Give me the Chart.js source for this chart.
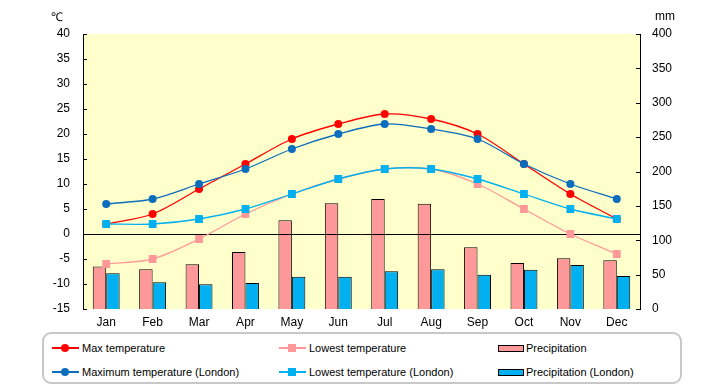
<!DOCTYPE html>
<html>
<head>
<meta charset="utf-8">
<script src="https://cdn.jsdelivr.net/npm/chart.js@4/dist/chart.umd.min.js"></script>
<style>
    body { margin: 0; background: #fff; font-family: "Liberation Sans", Arial, sans-serif; }
    #wrap { position: relative; width: 720px; height: 385px; }
    .unit { position: absolute; font-size: 12px; color: #000; }
    #legend {
        position: absolute; left: 42px; top: 332px; width: 636px; height: 48px;
        border: 2px solid #c8c8c8; border-radius: 9px; background: #fff;
    }
    .item { position: absolute; font-size: 11px; color: #000; height: 14px; line-height: 14px; white-space: nowrap; }
    .line { position: absolute; top: 6px; height: 2px; }
    .dot { position: absolute; border-radius: 50%; }
    .sq { position: absolute; }
    .box { position: absolute; top: 4px; height: 5px; border: 1px solid #000; }
</style>
</head>
<body>
<div id="wrap">
    <canvas id="climate" width="720" height="385"></canvas>
    <div class="unit" style="left:51px; top:8px;">℃</div>
    <div class="unit" style="left:655px; top:9px;">mm</div>
    <div id="legend"></div>
</div>
<script>
const months = ['Jan', 'Feb', 'Mar', 'Apr', 'May', 'Jun', 'Jul', 'Aug', 'Sep', 'Oct', 'Nov', 'Dec'];

// temperatures (left axis, degrees C)
const maxTemp = [2, 4, 9, 14, 19, 22, 24, 23, 20, 14, 8, 3];
const lowTemp = [-6, -5, -1, 4, 8, 11, 13, 13, 10, 5, 0, -4];
const maxTempLondon = [6, 7, 10, 13, 17, 20, 22, 21, 19, 14, 10, 7];
const lowTempLondon = [2, 2, 3, 5, 8, 11, 13, 13, 11, 8, 5, 3];

// precipitation (right axis, mm)
const precip = [62, 58, 65, 83, 129, 154, 160, 153, 90, 67, 74, 71];
const precipLondon = [52, 39, 36, 38, 47, 47, 55, 58, 50, 57, 64, 48];

const tempTicks = { min: -15, max: 40, step: 5 };
const rainTicks = { min: 0, max: 400, step: 50 };

const plotLayer = {
    id: 'plotLayer',
    beforeDraw(chart) {
        const { ctx, chartArea: a } = chart;
        ctx.save();
        ctx.fillStyle = '#ffffcc';
        ctx.fillRect(a.left, a.top, a.right - a.left, a.bottom - a.top);
        ctx.restore();
    },
    beforeDatasetDraw(chart, args) {
        // zero line sits over the bars but under the lines
        if (chart.data.datasets[args.index].label !== 'Max temperature') return;
        const { ctx, chartArea: a } = chart;
        const y0 = Math.round(chart.scales.y.getPixelForValue(0)) + 0.5;
        ctx.save();
        ctx.strokeStyle = '#000';
        ctx.lineWidth = 1;
        ctx.beginPath();
        ctx.moveTo(a.left, y0);
        ctx.lineTo(a.right, y0);
        ctx.stroke();
        ctx.restore();
    },
    afterDraw(chart) {
        // ticks pointing into the plot
        const { ctx, chartArea: a } = chart;
        ctx.save();
        ctx.strokeStyle = '#000';
        ctx.lineWidth = 1;
        ctx.beginPath();
        chart.scales.y.ticks.forEach(t => {
            const py = Math.round(chart.scales.y.getPixelForValue(t.value)) + 0.5;
            ctx.moveTo(a.left, py);
            ctx.lineTo(a.left + 4, py);
        });
        chart.scales.y1.ticks.forEach(t => {
            const py = Math.round(chart.scales.y1.getPixelForValue(t.value)) + 0.5;
            ctx.moveTo(a.right - 4, py);
            ctx.lineTo(a.right, py);
        });
        ctx.stroke();
        ctx.restore();
    }
};

const lineSet = (label, data, color, style, radius, order) => ({
    type: 'line',
    label: label,
    data: data,
    yAxisID: 'y',
    borderColor: color,
    backgroundColor: color,
    borderWidth: 1.3,
    pointStyle: style,
    pointRadius: radius,
    pointHoverRadius: radius,
    pointBorderWidth: 0,
    tension: 0.3,
    order: order
});

const barSet = (label, data, color, order) => ({
    type: 'bar',
    label: label,
    data: data,
    yAxisID: 'y1',
    backgroundColor: color,
    borderColor: '#000',
    borderWidth: 1,
    categoryPercentage: 0.58,
    barPercentage: 1.0,
    order: order
});

const datasets = [
    lineSet('Max temperature', maxTemp, '#ff0000', 'circle', 4, 3),
    lineSet('Lowest temperature', lowTemp, '#ff9999', 'rect', 5.5, 2),
    barSet('Precipitation', precip, '#ff9999', 4),
    lineSet('Maximum temperature (London)', maxTempLondon, '#0a6ebd', 'circle', 4, 1),
    lineSet('Lowest temperature (London)', lowTempLondon, '#00b0f0', 'rect', 5.5, 0),
    barSet('Precipitation (London)', precipLondon, '#00b0f0', 5)
];

const tickFont = { family: '"Liberation Sans", Arial, sans-serif', size: 12 };

new Chart(document.getElementById('climate'), {
    data: { labels: months, datasets: datasets },
    options: {
        responsive: false,
        animation: false,
        layout: { padding: { top: 34, bottom: 52, left: 0, right: 0 } },
        plugins: { legend: { display: false }, tooltip: { enabled: false } },
        scales: {
            x: {
                offset: true,
                grid: { display: false, drawTicks: false },
                border: { display: false },
                ticks: { color: '#000', font: tickFont, padding: 6, maxRotation: 0 },
                afterFit: s => { s.height = 24; }
            },
            y: {
                position: 'left',
                min: tempTicks.min,
                max: tempTicks.max,
                grid: { display: false, drawTicks: false },
                border: { display: true, color: '#000', width: 1 },
                ticks: { stepSize: tempTicks.step, color: '#000', font: tickFont, padding: 13 },
                afterFit: s => { s.width = 83; }
            },
            y1: {
                position: 'right',
                min: rainTicks.min,
                max: rainTicks.max,
                grid: { display: false, drawTicks: false },
                border: { display: true, color: '#000', width: 1 },
                ticks: { stepSize: rainTicks.step, color: '#000', font: tickFont, padding: 12 },
                afterFit: s => { s.width = 80; }
            }
        }
    },
    plugins: [plotLayer]
});

// html legend, three columns by two rows
const legend = document.getElementById('legend');
const cols = [8, 235, 454];
datasets.forEach((ds, i) => {
    const item = document.createElement('div');
    item.className = 'item';
    item.style.left = cols[i % 3] + 'px';
    item.style.top = (i < 3 ? 7 : 31) + 'px';
    let sample = '';
    if (ds.type === 'line') {
        sample += `<div class="line" style="left:0;width:27px;background:${ds.borderColor};"></div>`;
        const cls = ds.pointStyle === 'circle' ? 'dot' : 'sq';
        sample += `<div class="${cls}" style="left:9px;top:3px;width:8px;height:8px;background:${ds.borderColor};"></div>`;
    } else {
        sample += `<div class="box" style="left:0;width:24px;background:${ds.backgroundColor};"></div>`;
    }
    item.innerHTML = sample + `<span style="position:absolute;left:${ds.type === 'line' ? 30 : 28}px;top:0;">${ds.label}</span>`;
    legend.appendChild(item);
});
</script>
</body>
</html>
